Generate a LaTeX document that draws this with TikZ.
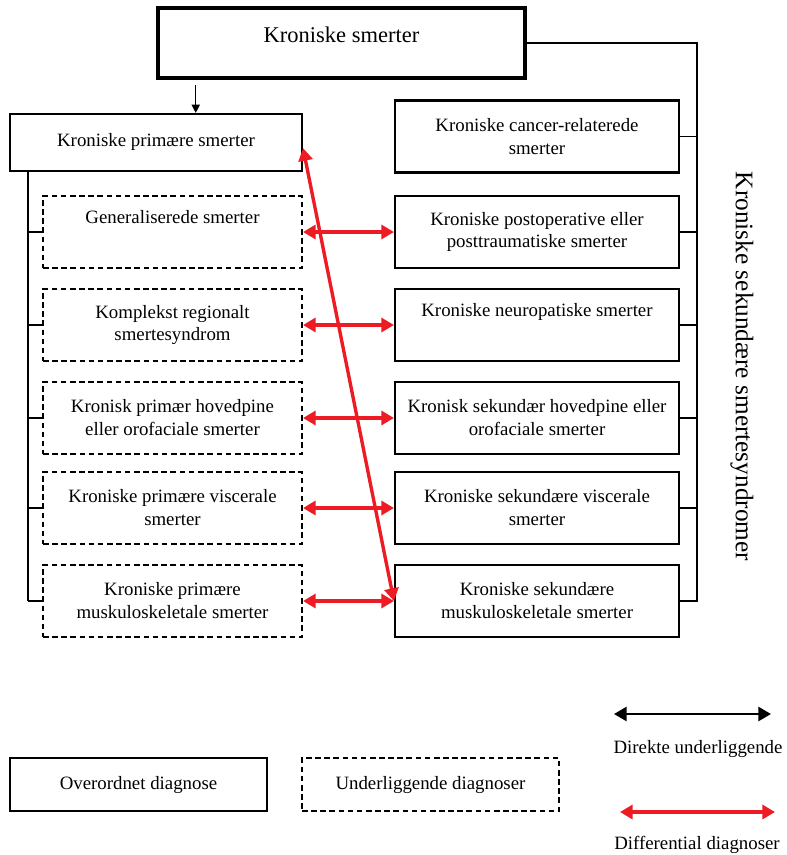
\documentclass[tikz,border=0pt]{standalone}
\usepackage{fontspec}
\setmainfont{Liberation Serif}
\usetikzlibrary{arrows.meta}
\definecolor{diffred}{RGB}{237,28,36}

\begin{document}
\begin{tikzpicture}[
        font=\fontsize{13.4}{16.3}\selectfont,
        box/.style={draw, line width=1.5pt, minimum width=7.1cm, minimum height=1.8cm, align=center, inner sep=2pt},
        primbox/.style={box, minimum width=6.475cm},
        subbox/.style={primbox, dash pattern=on 4pt off 2.5pt},
        link/.style={line width=1.3pt},
        diff/.style={diffred, line width=2.4pt, {Triangle[length=9pt,width=10pt]}-{Triangle[length=9pt,width=10pt]}}
    ]
        \useasboundingbox (0,0) rectangle (19.675,-21.375);

        % Define the top diagnosis
        \node[draw, line width=3.2pt, minimum width=9.175cm, minimum height=1.75cm, text depth=0.4cm,
              font=\fontsize{16}{19}\selectfont] (top) at (8.5375,-1.075) {Kroniske smerter};

        % Primary chronic pain and its sub-diagnoses
        \node[box, minimum width=7.3cm, minimum height=1.425cm, text depth=0.15cm] (prim) at (3.9,-3.5625) {Kroniske primære smerter};
        \node[subbox] (l1) at (4.3125,-5.8) {Generaliserede smerter\\\strut};
        \node[subbox] (l2) at (4.3125,-8.125) {Komplekst regionalt\\smertesyndrom};
        \node[subbox] (l3) at (4.3125,-10.45) {Kronisk primær hovedpine\\eller orofaciale smerter};
        \node[subbox] (l4) at (4.3125,-12.7) {Kroniske primære viscerale\\smerter};
        \node[subbox] (l5) at (4.3125,-15.025) {Kroniske primære\\muskuloskeletale smerter};

        % Secondary chronic pain diagnoses
        \node[box] (r0) at (13.425,-3.4125) {Kroniske cancer-relaterede\\smerter};
        \node[box] (r1) at (13.425,-5.8) {Kroniske postoperative eller\\posttraumatiske smerter};
        \node[box] (r2) at (13.425,-8.125) {Kroniske neuropatiske smerter\\\strut};
        \node[box] (r3) at (13.425,-10.45) {Kronisk sekundær hovedpine eller\\orofaciale smerter};
        \node[box] (r4) at (13.425,-12.7) {Kroniske sekundære viscerale\\smerter};
        \node[box] (r5) at (13.425,-15.025) {Kroniske sekundære\\muskuloskeletale smerter};

        \node[rotate=-90, font=\fontsize{18}{22}\selectfont] (secondary) at (18.55,-9.1625) {Kroniske sekundære smertesyndromer};

        % Tree lines
        \coordinate (lspine) at (0.7,-15.025);
        \coordinate (rspine) at (17.425,-15.025);
        \draw[line width=0.8pt, -{Triangle[length=6pt,width=6pt]}] ([xshift=1cm,yshift=-0.13cm]top.south west) -- ([xshift=1cm]top.south west |- prim.north);
        \draw[link] (prim.south -| lspine) -- (lspine);
        \foreach \i in {1,...,5} {
            \draw[link] (l\i.west -| lspine) -- (l\i.west);
        }
        \draw[link] (top.east) -| (rspine) -- (r5.east);
        \foreach \i in {0,...,4} {
            \draw[link] (r\i.east) -- (r\i.east -| rspine);
        }

        % Differential diagnoses
        \foreach \i in {1,...,5} {
            \draw[diff] (l\i.east) -- (r\i.west);
        }
        \draw[diff] ([yshift=-0.14cm]prim.east) -- (r5.west);

        % Legend
        \node[box, minimum width=6.425cm, minimum height=1.325cm] (overordnet) at (3.4625,-19.6125) {Overordnet diagnose};
        \node[subbox, minimum width=6.425cm, minimum height=1.325cm] (underliggende) at (10.7625,-19.6125) {Underliggende diagnoser};
        \coordinate (direct-a) at (15.35,-17.85);
        \coordinate (direct-b) at (19.275,-17.85);
        \draw[line width=1.8pt, {Triangle[length=9pt,width=10pt]}-{Triangle[length=9pt,width=10pt]}] (direct-a) -- (direct-b);
        \node (direct) at (17.45,-18.725) {Direkte underliggende};
        \coordinate (diff-a) at (15.5,-20.3);
        \coordinate (diff-b) at (19.375,-20.3);
        \draw[diff] (diff-a) -- (diff-b);
        \node (differential) at (17.425,-21.125) {Differential diagnoser};
    \end{tikzpicture}
\end{document}
